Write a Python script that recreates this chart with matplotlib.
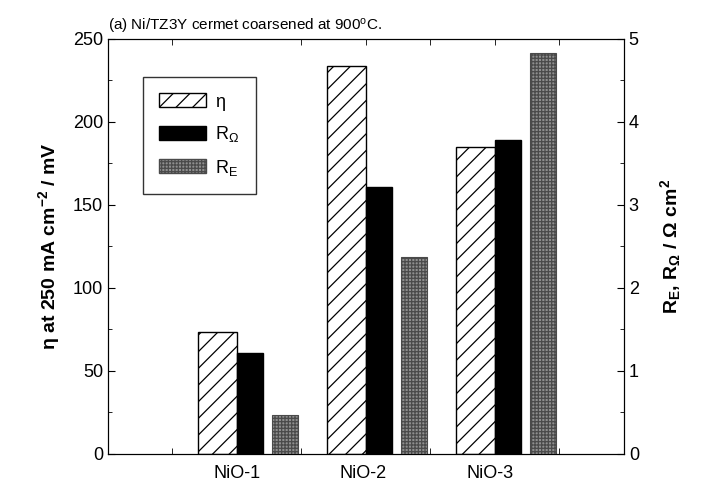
import matplotlib
matplotlib.use("Agg")
import matplotlib.pyplot as plt
import matplotlib.patches as mpatches
import numpy as np

plt.rcParams['font.family'] = ['Liberation Sans', 'DejaVu Sans']
plt.rcParams['mathtext.fontset'] = 'custom'
plt.rcParams['mathtext.rm'] = 'Liberation Sans'
plt.rcParams['mathtext.it'] = 'Liberation Sans'
plt.rcParams['mathtext.bf'] = 'Liberation Sans:bold'
plt.rcParams['hatch.linewidth'] = 0.9

samples = ['NiO-1', 'NiO-2', 'NiO-3']
group_pos = [2, 4, 6]
label_pos = [2.0, 3.95, 5.92]
eta = [73.5, 234, 185]        # mV, left axis
r_ohm = [1.22, 3.22, 3.78]    # ohm cm2, right axis
r_e = [0.47, 2.37, 4.83]      # ohm cm2, right axis

fig = plt.figure(figsize=(7.01, 4.91), dpi=100)
ax = fig.add_axes([0.154, 0.0754, 0.736, 0.8452])
ax2 = ax.twinx()

pos = np.array(group_pos, dtype=float)
ax.bar(pos - 0.6, eta, width=0.6, align='edge', facecolor='white',
       edgecolor='black', hatch='//', linewidth=1.0)
ax2.bar(pos, r_ohm, width=0.4, align='edge', color='black', edgecolor='black')
ax2.bar(pos + 0.55, r_e, width=0.4, align='edge', facecolor='#8f8f8f',
        edgecolor='#4a4a4a', hatch='+++++', linewidth=0.8)

ax.set_xlim(0, 8)
ax.set_ylim(0, 250)
ax2.set_ylim(0, 5)
ax.set_yticks([0, 50, 100, 150, 200, 250])
ax.set_yticks(np.arange(25, 250, 50), minor=True)
ax2.set_yticks([0, 1, 2, 3, 4, 5])
ax2.set_yticks(np.arange(0.5, 5, 1), minor=True)
ax.set_xticks(label_pos, samples)
ax.set_xticks([1, 2, 3, 4, 5, 6, 7], minor=True)

ax.tick_params(axis='x', which='major', length=0, labelsize=13, pad=8)
ax.tick_params(axis='x', which='minor', direction='in', length=4, top=True, bottom=True)
ax.tick_params(axis='y', which='major', direction='in', length=5, labelsize=13)
ax.tick_params(axis='y', which='minor', direction='in', length=3)
ax2.tick_params(axis='y', which='major', direction='in', length=5, labelsize=13)
ax2.tick_params(axis='y', which='minor', direction='in', length=3)

ax.set_ylabel(r'η at 250 mA cm$^{\mathbf{-2}}$ / mV', fontsize=14, fontweight='bold', labelpad=8)
ax2.set_ylabel(r'R$_{\mathbf{E}}$, R$_{\mathbf{Ω}}$ / Ω cm$^{\mathbf{2}}$', fontsize=14,
               fontweight='bold', labelpad=14)

ax.set_title('(a) Ni/TZ3Y cermet coarsened at 900$^{\\mathrm{o}}$C.', fontsize=11,
             loc='left', pad=6, x=0.0)

handles = [
    mpatches.Patch(facecolor='white', edgecolor='black', hatch='//', label='η'),
    mpatches.Patch(facecolor='black', edgecolor='black', label='R$_Ω$'),
    mpatches.Patch(facecolor='#8f8f8f', edgecolor='#4a4a4a', hatch='+++++', label='R$_E$'),
]
leg = ax2.legend(handles=handles, loc='upper left', bbox_to_anchor=(0.068, 0.908),
                 borderaxespad=0, fontsize=13, frameon=True, fancybox=False,
                 edgecolor='black', handlelength=2.6, handleheight=0.8,
                 labelspacing=0.75, borderpad=0.9, handletextpad=0.5)
leg.get_frame().set_linewidth(1.0)

fig.savefig('out.png', dpi=100)
